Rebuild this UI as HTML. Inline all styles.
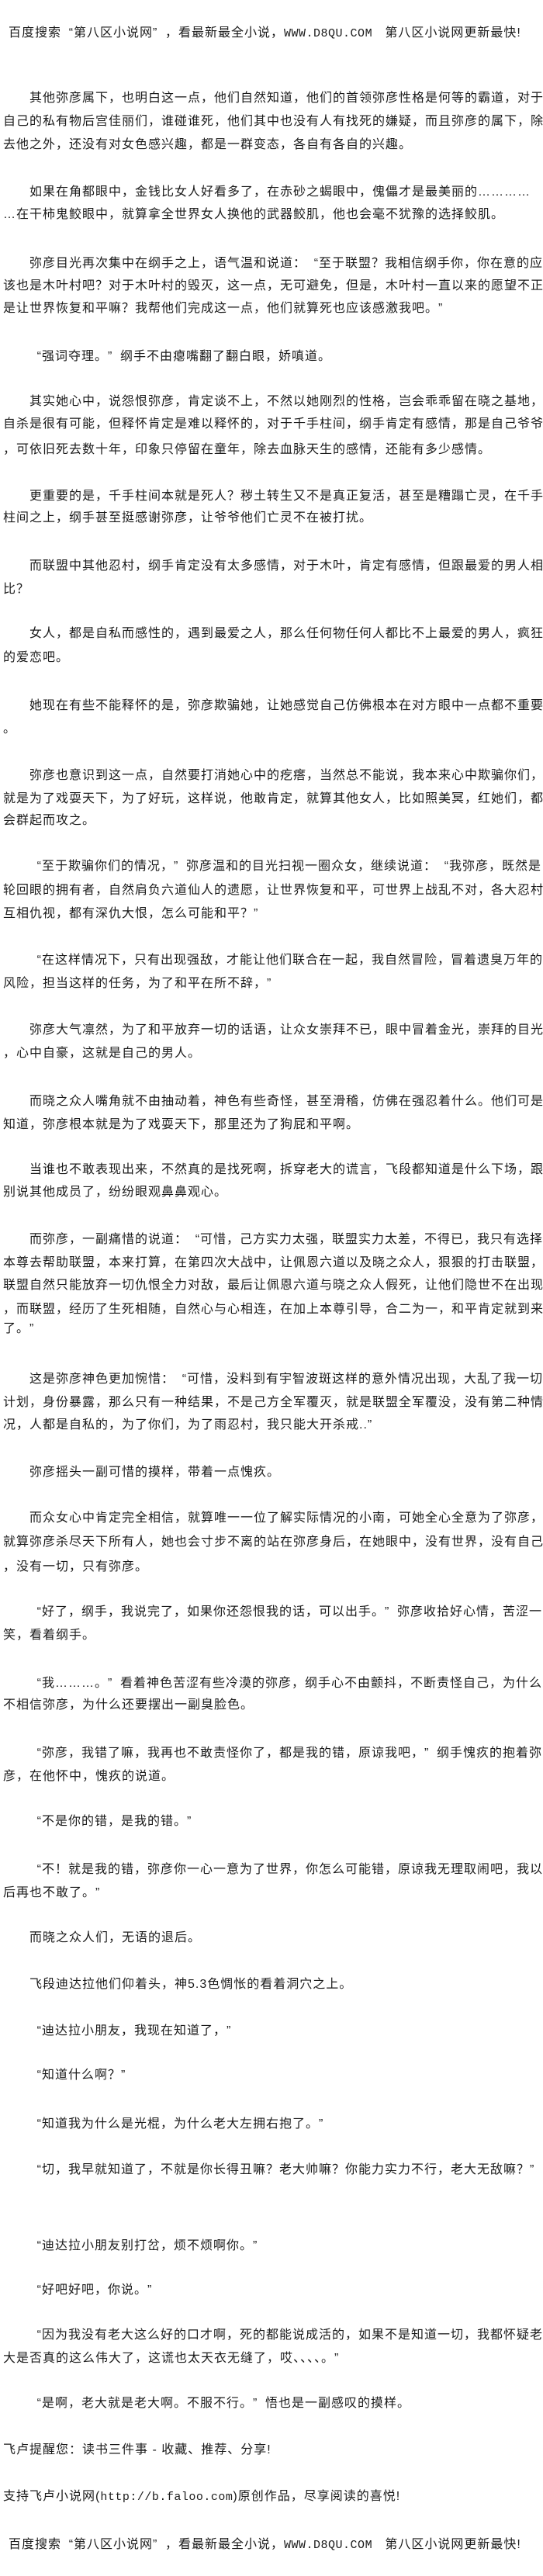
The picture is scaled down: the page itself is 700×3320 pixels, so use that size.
<!DOCTYPE html>
<html><head><meta charset="utf-8"><style>
html,body{margin:0;padding:0;background:#fff;}
body{width:700px;height:3320px;position:relative;overflow:hidden;
font-family:"Liberation Sans","Noto Sans CJK SC","WenQuanYi Zen Hei",sans-serif;
font-size:16px;letter-spacing:1px;color:#1a1a1a;}
.l{position:absolute;left:4px;height:30px;line-height:30px;white-space:nowrap;}
.i{left:38px;}
.m{font-family:"Liberation Mono",monospace;letter-spacing:0.5px;font-size:15px;}
b{font-weight:normal;display:inline-block;width:16px;}
b.o{text-align:right;}
b.c{text-align:left;}
</style></head><body>
<div class="l" style="left:11px;top:28px">百度搜索<b class="o">“</b>第八区小说网<b class="c">”</b>，看最新最全小说，<span class="m">WWW.D8QU.COM</span>&nbsp;&nbsp;&nbsp;第八区小说网更新最快!</div>
<div class="l i" style="top:112px">其他弥彦属下，也明白这一点，他们自然知道，他们的首领弥彦性格是何等的霸道，对于</div>
<div class="l" style="top:142px">自己的私有物后宫佳丽们，谁碰谁死，他们其中也没有人有找死的嫌疑，而且弥彦的属下，除</div>
<div class="l" style="top:172px">去他之外，还没有对女色感兴趣，都是一群变态，各自有各自的兴趣。</div>
<div class="l i" style="top:233px">如果在角都眼中，金钱比女人好看多了，在赤砂之蝎眼中，傀儡才是最美丽的…………</div>
<div class="l" style="top:262px">…在干柿鬼鲛眼中，就算拿全世界女人换他的武器鲛肌，他也会毫不犹豫的选择鲛肌。</div>
<div class="l i" style="top:325px">弥彦目光再次集中在纲手之上，语气温和说道：<b class="o">“</b>至于联盟？我相信纲手你，你在意的应</div>
<div class="l" style="top:354px">该也是木叶村吧？对于木叶村的毁灭，这一点，无可避免，但是，木叶村一直以来的愿望不正</div>
<div class="l" style="top:383px">是让世界恢复和平嘛？我帮他们完成这一点，他们就算死也应该感激我吧。<b class="c">”</b></div>
<div class="l i" style="top:445px"><b class="o">“</b>强词夺理。<b class="c">”</b>纲手不由瘪嘴翻了翻白眼，娇嗔道。</div>
<div class="l i" style="top:503px">其实她心中，说怨恨弥彦，肯定谈不上，不然以她刚烈的性格，岂会乖乖留在晓之基地，</div>
<div class="l" style="top:532px">自杀是很有可能，但释怀肯定是难以释怀的，对于千手柱间，纲手肯定有感情，那是自己爷爷</div>
<div class="l" style="top:565px">，可依旧死去数十年，印象只停留在童年，除去血脉天生的感情，还能有多少感情。</div>
<div class="l i" style="top:625px">更重要的是，千手柱间本就是死人？秽土转生又不是真正复活，甚至是糟蹋亡灵，在千手</div>
<div class="l" style="top:653px">柱间之上，纲手甚至挺感谢弥彦，让爷爷他们亡灵不在被打扰。</div>
<div class="l i" style="top:715px">而联盟中其他忍村，纲手肯定没有太多感情，对于木叶，肯定有感情，但跟最爱的男人相</div>
<div class="l" style="top:745px">比？</div>
<div class="l i" style="top:802px">女人，都是自私而感性的，遇到最爱之人，那么任何物任何人都比不上最爱的男人，疯狂</div>
<div class="l" style="top:833px">的爱恋吧。</div>
<div class="l i" style="top:895px">她现在有些不能释怀的是，弥彦欺骗她，让她感觉自己仿佛根本在对方眼中一点都不重要</div>
<div class="l" style="top:925px">。</div>
<div class="l i" style="top:985px">弥彦也意识到这一点，自然要打消她心中的疙瘩，当然总不能说，我本来心中欺骗你们，</div>
<div class="l" style="top:1015px">就是为了戏耍天下，为了好玩，这样说，他敢肯定，就算其他女人，比如照美冥，红她们，都</div>
<div class="l" style="top:1043px">会群起而攻之。</div>
<div class="l i" style="top:1102px"><b class="o">“</b>至于欺骗你们的情况，<b class="c">”</b>弥彦温和的目光扫视一圈众女，继续说道：<b class="o">“</b>我弥彦，既然是</div>
<div class="l" style="top:1133px">轮回眼的拥有者，自然肩负六道仙人的遗愿，让世界恢复和平，可世界上战乱不对，各大忍村</div>
<div class="l" style="top:1163px">互相仇视，都有深仇大恨，怎么可能和平？<b class="c">”</b></div>
<div class="l i" style="top:1223px"><b class="o">“</b>在这样情况下，只有出现强敌，才能让他们联合在一起，我自然冒险，冒着遗臭万年的</div>
<div class="l" style="top:1253px">风险，担当这样的任务，为了和平在所不辞，<b class="c">”</b></div>
<div class="l i" style="top:1313px">弥彦大气凛然，为了和平放弃一切的话语，让众女崇拜不已，眼中冒着金光，崇拜的目光</div>
<div class="l" style="top:1343px">，心中自豪，这就是自己的男人。</div>
<div class="l i" style="top:1405px">而晓之众人嘴角就不由抽动着，神色有些奇怪，甚至滑稽，仿佛在强忍着什么。他们可是</div>
<div class="l" style="top:1435px">知道，弥彦根本就是为了戏耍天下，那里还为了狗屁和平啊。</div>
<div class="l i" style="top:1493px">当谁也不敢表现出来，不然真的是找死啊，拆穿老大的谎言，飞段都知道是什么下场，跟</div>
<div class="l" style="top:1522px">别说其他成员了，纷纷眼观鼻鼻观心。</div>
<div class="l i" style="top:1583px">而弥彦，一副痛惜的说道：<b class="o">“</b>可惜，己方实力太强，联盟实力太差，不得已，我只有选择</div>
<div class="l" style="top:1613px">本尊去帮助联盟，本来打算，在第四次大战中，让佩恩六道以及晓之众人，狠狠的打击联盟，</div>
<div class="l" style="top:1642px">联盟自然只能放弃一切仇恨全力对敌，最后让佩恩六道与晓之众人假死，让他们隐世不在出现</div>
<div class="l" style="top:1673px">，而联盟，经历了生死相随，自然心与心相连，在加上本尊引导，合二为一，和平肯定就到来</div>
<div class="l" style="top:1698px">了。<b class="c">”</b></div>
<div class="l i" style="top:1763px">这是弥彦神色更加惋惜：<b class="o">“</b>可惜，没料到有宇智波斑这样的意外情况出现，大乱了我一切</div>
<div class="l" style="top:1793px">计划，身份暴露，那么只有一种结果，不是己方全军覆灭，就是联盟全军覆没，没有第二种情</div>
<div class="l" style="top:1822px">况，人都是自私的，为了你们，为了雨忍村，我只能大开杀戒..<b class="c">”</b></div>
<div class="l i" style="top:1883px">弥彦摇头一副可惜的摸样，带着一点愧疚。</div>
<div class="l i" style="top:1942px">而众女心中肯定完全相信，就算唯一一位了解实际情况的小南，可她全心全意为了弥彦，</div>
<div class="l" style="top:1973px">就算弥彦杀尽天下所有人，她也会寸步不离的站在弥彦身后，在她眼中，没有世界，没有自己</div>
<div class="l" style="top:2005px">，没有一切，只有弥彦。</div>
<div class="l i" style="top:2063px"><b class="o">“</b>好了，纲手，我说完了，如果你还怨恨我的话，可以出手。<b class="c">”</b>弥彦收拾好心情，苦涩一</div>
<div class="l" style="top:2093px">笑，看着纲手。</div>
<div class="l i" style="top:2155px"><b class="o">“</b>我………。<b class="c">”</b>看着神色苦涩有些冷漠的弥彦，纲手心不由颤抖，不断责怪自己，为什么</div>
<div class="l" style="top:2183px">不相信弥彦，为什么还要摆出一副臭脸色。</div>
<div class="l i" style="top:2245px"><b class="o">“</b>弥彦，我错了嘛，我再也不敢责怪你了，都是我的错，原谅我吧，<b class="c">”</b>纲手愧疚的抱着弥</div>
<div class="l" style="top:2275px">彦，在他怀中，愧疚的说道。</div>
<div class="l i" style="top:2333px"><b class="o">“</b>不是你的错，是我的错。<b class="c">”</b></div>
<div class="l i" style="top:2395px"><b class="o">“</b>不！就是我的错，弥彦你一心一意为了世界，你怎么可能错，原谅我无理取闹吧，我以</div>
<div class="l" style="top:2425px">后再也不敢了。<b class="c">”</b></div>
<div class="l i" style="top:2483px">而晓之众人们，无语的退后。</div>
<div class="l i" style="top:2543px">飞段迪达拉他们仰着头，神5.3色惆怅的看着洞穴之上。</div>
<div class="l i" style="top:2603px"><b class="o">“</b>迪达拉小朋友，我现在知道了，<b class="c">”</b></div>
<div class="l i" style="top:2660px"><b class="o">“</b>知道什么啊？<b class="c">”</b></div>
<div class="l i" style="top:2723px"><b class="o">“</b>知道我为什么是光棍，为什么老大左拥右抱了。<b class="c">”</b></div>
<div class="l i" style="top:2782px"><b class="o">“</b>切，我早就知道了，不就是你长得丑嘛？老大帅嘛？你能力实力不行，老大无敌嘛？<b class="c">”</b></div>
<div class="l i" style="top:2880px"><b class="o">“</b>迪达拉小朋友别打岔，烦不烦啊你。<b class="c">”</b></div>
<div class="l i" style="top:2937px"><b class="o">“</b>好吧好吧，你说。<b class="c">”</b></div>
<div class="l i" style="top:2995px"><b class="o">“</b>因为我没有老大这么好的口才啊，死的都能说成活的，如果不是知道一切，我都怀疑老</div>
<div class="l" style="top:3025px">大是否真的这么伟大了，这谎也太天衣无缝了，哎、、、、。<b class="c">”</b></div>
<div class="l i" style="top:3083px"><b class="o">“</b>是啊，老大就是老大啊。不服不行。<b class="c">”</b>悟也是一副感叹的摸样。</div>
<div class="l" style="top:3143px">飞卢提醒您：读书三件事 - 收藏、推荐、分享!</div>
<div class="l" style="top:3203px">支持飞卢小说网(<span class="m">http://b.faloo.com</span>)原创作品，尽享阅读的喜悦!</div>
<div class="l" style="left:11px;top:3265px">百度搜索<b class="o">“</b>第八区小说网<b class="c">”</b>，看最新最全小说，<span class="m">WWW.D8QU.COM</span>&nbsp;&nbsp;&nbsp;第八区小说网更新最快!</div>
</body></html>
